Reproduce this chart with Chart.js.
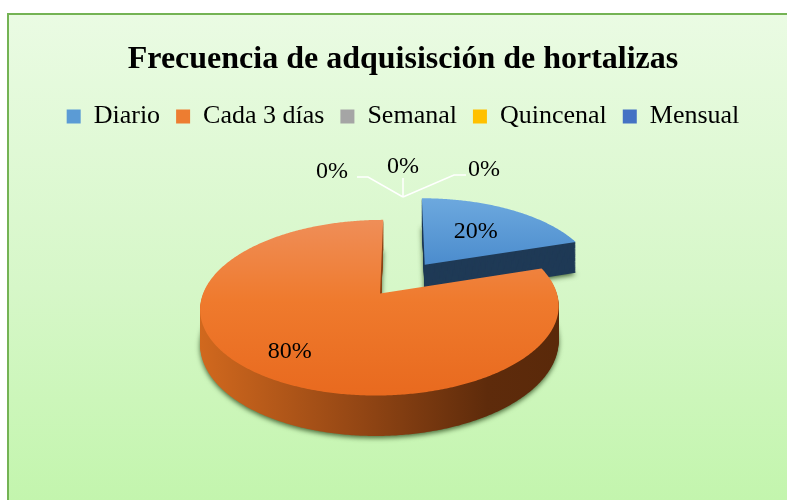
<!DOCTYPE html>
<html>
<head>
<meta charset="utf-8">
<script src="https://cdn.jsdelivr.net/npm/chart.js@4/dist/chart.umd.min.js"></script>
<style>
    html, body { margin: 0; padding: 0; background: #ffffff; }
    body { width: 787px; height: 500px; position: relative; overflow: hidden; }
    /* marco verde del gráfico (se corta por la derecha y por abajo, como en la captura) */
    #frame {
        position: absolute; left: 7px; top: 13px; width: 800px; height: 500px;
        box-sizing: border-box; border: 2px solid #74b354;
        background: linear-gradient(to bottom, #eafbe3 0%, #d6f7c8 55%, #c2f5ac 100%);
    }
    #chart { position: absolute; left: 0; top: 0; }
</style>
</head>
<body>
<div id="frame"></div>
<canvas id="chart" width="787" height="500"></canvas>
<script>
// Datos de la figura
const categorias = ['Diario', 'Cada 3 días', 'Semanal', 'Quincenal', 'Mensual'];
const porcentajes = [20, 80, 0, 0, 0];
const tituloGrafico = 'Frecuencia de adquisisción de hortalizas';

// Colores de Excel (cara superior / costado)
const coloresSerie = ['#5b9bd5', '#ed7d31', '#a5a5a5', '#ffc000', '#4472c4'];
const FUENTE = "'Liberation Serif', 'Times New Roman', serif";

// Estilo del pastel 3D simulado
const PIE3D = {
    explode: [38, 38, 0, 0, 0],   // separación de cada porción
    depth: 33,                    // grosor
    tilt: 0.47,                   // aplastamiento vertical
    focal: 1100,                  // perspectiva
    labelRadius: [0.57, 0.76, 1, 1, 1],
    // posiciones de las etiquetas de 0% (línea guía) respecto al ancla
    callouts: [
        { line: [[-35, -20], [-46, -20]], text: [-71, -25] },
        { line: [[0, -19]], text: [0, -30] },
        { line: [[51, -22], [63, -22]], text: [81, -27] }
    ]
};

function proyectar(cx, cy, px, py, z) {
    const s = 1 / (1 - py / PIE3D.focal);
    return [cx + px * s, cy + py * PIE3D.tilt * s + z * s];
}

function puntosPorcion(el, ex) {
    const mid = (el.startAngle + el.endAngle) / 2;
    const ox = Math.cos(mid) * ex, oy = Math.sin(mid) * ex;
    const pts = [[ox, oy]];
    const span = el.endAngle - el.startAngle;
    const n = Math.max(2, Math.ceil(span / 0.01));
    for (let i = 0; i <= n; i++) {
        const a = el.startAngle + span * i / n;
        pts.push([ox + Math.cos(a) * el.outerRadius, oy + Math.sin(a) * el.outerRadius]);
    }
    return pts;
}

function rellenar(ctx, el, pts, z) {
    ctx.beginPath();
    pts.forEach((p, i) => {
        const q = proyectar(el.x, el.y, p[0], p[1], z);
        if (i === 0) ctx.moveTo(q[0], q[1]); else ctx.lineTo(q[0], q[1]);
    });
    ctx.closePath();
    ctx.fill();
}

function estiloCara(ctx, i) {
    if (i === 1) {
        const g = ctx.createLinearGradient(0, 220, 0, 400);
        g.addColorStop(0, '#ef8e58');
        g.addColorStop(0.45, '#ef7a2d');
        g.addColorStop(1, '#e8691e');
        return g;
    }
    if (i === 0) {
        const g = ctx.createLinearGradient(0, 195, 0, 265);
        g.addColorStop(0, '#6eaadf');
        g.addColorStop(1, '#4b8ccd');
        return g;
    }
    return coloresSerie[i];
}

function estiloCostado(ctx, i) {
    if (i === 1) {
        const g = ctx.createLinearGradient(197, 0, 560, 0);
        g.addColorStop(0, '#d2691e');
        g.addColorStop(0.45, '#934614');
        g.addColorStop(0.8, '#5e2b0b');
        g.addColorStop(1, '#5a290a');
        return g;
    }
    if (i === 0) return '#1f3a56';
    return '#555555';
}

const pastel3D = {
    id: 'pastel3D',
    beforeDatasetsDraw(chart) {
        const ctx = chart.ctx;
        const meta = chart.getDatasetMeta(0);
        const total = porcentajes.reduce((a, b) => a + b, 0);

        // porciones: la de atrás primero
        [0, 1].forEach(i => {
            const el = meta.data[i];
            if (!el || el.circumference === 0) return;
            const pts = puntosPorcion(el, PIE3D.explode[i]);
            ctx.save();
            ctx.fillStyle = estiloCostado(ctx, i);
            for (let z = PIE3D.depth; z >= 1; z--) {
                if (z === PIE3D.depth) {
                    ctx.shadowColor = 'rgba(40, 70, 25, 0.8)';
                    ctx.shadowBlur = 5;
                    ctx.shadowOffsetY = 2;
                } else {
                    ctx.shadowColor = 'transparent';
                    ctx.shadowBlur = 0;
                    ctx.shadowOffsetY = 0;
                }
                rellenar(ctx, el, pts, z);
            }
            ctx.fillStyle = estiloCara(ctx, i);
            rellenar(ctx, el, pts, 0);
            ctx.restore();
        });

        // etiquetas de datos
        ctx.save();
        ctx.font = '24px ' + FUENTE;
        ctx.fillStyle = '#000000';
        ctx.textAlign = 'center';
        ctx.textBaseline = 'middle';
        let k = 0;
        meta.data.forEach((el, i) => {
            const txt = Math.round(porcentajes[i] / total * 100) + '%';
            if (el.circumference > 0) {
                const mid = (el.startAngle + el.endAngle) / 2;
                const ex = PIE3D.explode[i];
                const rr = el.outerRadius * PIE3D.labelRadius[i];
                const p = proyectar(el.x, el.y,
                    Math.cos(mid) * (ex + rr), Math.sin(mid) * (ex + rr), 0);
                ctx.fillText(txt, p[0], p[1]);
            } else {
                const a = el.startAngle;
                const ancla = proyectar(el.x, el.y,
                    Math.cos(a) * el.outerRadius * 1.2, Math.sin(a) * el.outerRadius * 1.2, 0);
                const c = PIE3D.callouts[k++ % PIE3D.callouts.length];
                ctx.strokeStyle = '#ffffff';
                ctx.lineWidth = 1.5;
                ctx.beginPath();
                ctx.moveTo(ancla[0], ancla[1]);
                c.line.forEach(d => ctx.lineTo(ancla[0] + d[0], ancla[1] + d[1]));
                ctx.stroke();
                ctx.fillText(txt, ancla[0] + c.text[0], ancla[1] + c.text[1]);
            }
        });
        ctx.restore();
        return false; // ya dibujado a mano
    }
};

new Chart(document.getElementById('chart'), {
    type: 'pie',
    data: {
        labels: categorias,
        datasets: [{
            data: porcentajes,
            backgroundColor: coloresSerie,
            borderWidth: 0,
            radius: 172
        }]
    },
    options: {
        responsive: false,
        animation: false,
        devicePixelRatio: 1,
        layout: { padding: { top: 41, left: 31, right: 12, bottom: 82 } },
        plugins: {
            title: {
                display: true,
                text: tituloGrafico,
                color: '#000000',
                font: { family: FUENTE, size: 32, weight: 'bold', lineHeight: 1.2 },
                padding: { top: 0, bottom: 8 }
            },
            legend: {
                position: 'top',
                labels: {
                    color: '#000000',
                    boxWidth: 14,
                    boxHeight: 14,
                    padding: 16,
                    font: { family: FUENTE, size: 26 }
                }
            },
            tooltip: { enabled: false }
        }
    },
    plugins: [pastel3D]
});
</script>
</body>
</html>
